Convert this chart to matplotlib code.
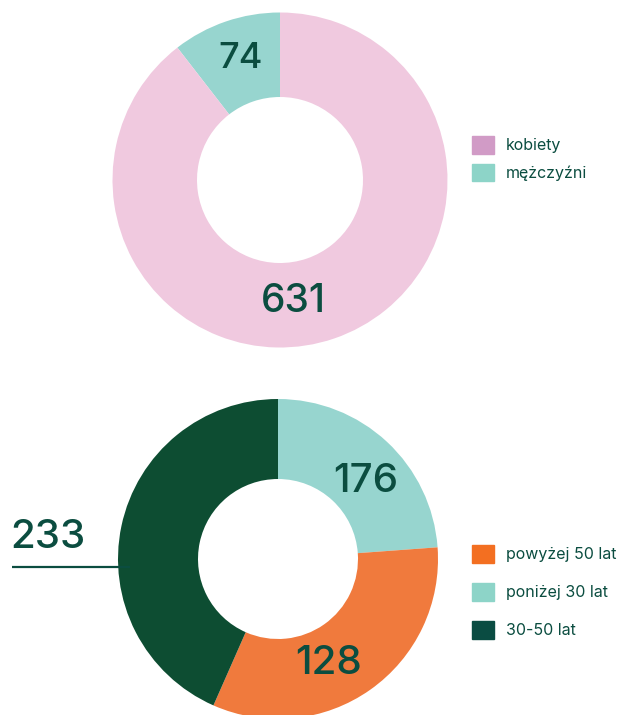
import matplotlib.pyplot as plt
from matplotlib.patches import Patch

plt.rcParams['font.family'] = ['Inter', 'DejaVu Sans']

# plec
plec_values = [74, 631]
plec_colors = ["#97d5cf", "#f0c9df"]
plec_legend = ["kobiety", "mężczyźni"]
plec_legend_colors = ["#d19bc6", "#8dd4c8"]

# wiek (kolejnosc wycinkow jak na rysunku: turkus, pomarancz, ciemna zielen)
wiek_values = [128, 176, 233]
wiek_colors = ["#97d5cf", "#f07a3d", "#0d4d32"]
wiek_text = ["176", "128", "233"]
wiek_legend = ["powyżej 50 lat", "poniżej 30 lat", "30-50 lat"]
wiek_legend_colors = ["#f36f21", "#8dd4c8", "#0a4c42"]

txt = "#0b4d40"
W, H = 626, 715

fig = plt.figure(figsize=(W / 100, H / 100), dpi=100)
ax = fig.add_axes([0, 0, 1, 1])

# gorny wykres
ax.pie(plec_values, colors=plec_colors, startangle=90, counterclock=True,
       center=(280, H - 180), radius=167.5,
       wedgeprops=dict(width=84.5, linewidth=0))
# dolny wykres
ax.pie(wiek_values, colors=wiek_colors, startangle=90, counterclock=False,
       center=(278, H - 559), radius=160,
       wedgeprops=dict(width=80, linewidth=0))

ax.set_xlim(0, W)
ax.set_ylim(0, H)
ax.set_aspect("equal")
ax.axis("off")

# liczby
fw = "medium"
ax.text(241, H - 58, str(plec_values[0]), fontsize=26, color=txt, ha="center", va="center", fontweight=fw)
ax.text(293, H - 301, str(plec_values[1]), fontsize=28, color=txt, ha="center", va="center", fontweight=fw)
ax.text(366, H - 481, wiek_text[0], fontsize=29, color=txt, ha="center", va="center", fontweight=fw)
ax.text(329, H - 664, wiek_text[1], fontsize=29, color=txt, ha="center", va="center", fontweight=fw)
ax.text(10, H - 537, wiek_text[2], fontsize=29, color=txt, ha="left", va="center", fontweight=fw)
ax.plot([12, 130], [H - 567, H - 567], color=txt, lw=1.6, solid_capstyle="butt")

# legendy
h1 = [Patch(color=c) for c in plec_legend_colors]
leg1 = ax.legend(h1, plec_legend, loc="upper left", bbox_to_anchor=(472, H - 136),
                 bbox_transform=ax.transData, frameon=False, fontsize=11.5,
                 handlelength=1.35, handleheight=1.35, handletextpad=0.75,
                 labelspacing=0.6, borderpad=0, borderaxespad=0, labelcolor=txt)
ax.add_artist(leg1)
h2 = [Patch(color=c) for c in wiek_legend_colors]
ax.legend(h2, wiek_legend, loc="upper left", bbox_to_anchor=(472, H - 545),
          bbox_transform=ax.transData, frameon=False, fontsize=11.5,
          handlelength=1.35, handleheight=1.35, handletextpad=0.75,
          labelspacing=1.25, borderpad=0, borderaxespad=0, labelcolor=txt)

fig.savefig("out.png", dpi=100)
